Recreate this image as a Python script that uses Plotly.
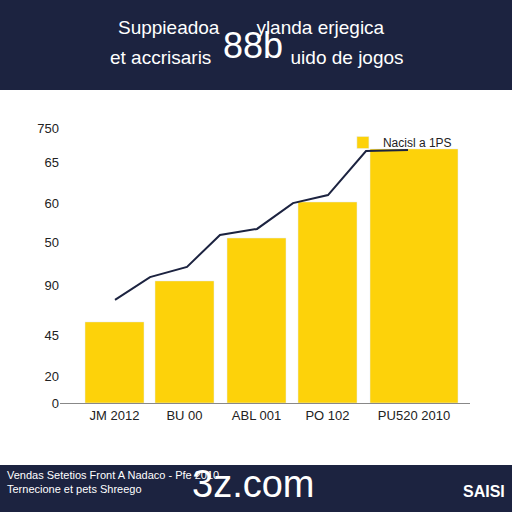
import plotly.graph_objects as go

categories = ["JM 2012", "BU 00", "ABL 001", "PO 102", "PU520 2010"]
bar_x = [114.5, 184.5, 256.5, 327.5, 414]
bar_w = [59, 59, 59, 59, 88]
bar_values = [29.5, 44.4, 60.0, 73.1, 92.4]
line_x = [115, 150, 187, 220, 257, 293, 328, 366, 408]
line_values = [37.5, 45.8, 49.5, 61.1, 63.3, 72.7, 75.6, 91.6, 92.0]
ytick_vals = [0, 9.5, 24.7, 42.9, 58.5, 72.4, 87.6, 100]
ytick_text = ["0", "20", "45", "90", "50", "60", "65", "750"]

def py(pix):
    return (403 - pix) / 275

fig = go.Figure()
fig.add_bar(x=bar_x, y=bar_values, width=bar_w, marker_color="#FDD20A",
            name="Nacisl a 1PS", showlegend=True)
fig.add_scatter(x=line_x, y=line_values, mode="lines", line=dict(color="#1c2340", width=2),
                showlegend=False)

def ann(x, y, text, size, xanchor="center", bold=False, align="center"):
    return dict(xref="paper", yref="paper", x=x, y=py(y), text=text, showarrow=False,
                xanchor=xanchor, yanchor="middle", align=align,
                font=dict(size=size, color="white"))

fig.update_layout(
    width=512, height=512, margin=dict(l=60, r=42, t=128, b=109),
    paper_bgcolor="white", plot_bgcolor="white",
    font=dict(family="Liberation Sans", color="#222"),
    showlegend=True,
    legend=dict(x=0.69, y=1.0, xanchor="left", yanchor="top", font=dict(size=12),
                bgcolor="rgba(0,0,0,0)"),
    xaxis=dict(range=[60, 470], tickvals=bar_x, ticktext=categories, showgrid=False,
               showline=True, linecolor="#888", ticks="", tickfont=dict(size=13), zeroline=False),
    yaxis=dict(range=[0, 100], tickvals=ytick_vals, ticktext=ytick_text, showgrid=False,
               zeroline=False, tickfont=dict(size=13), ticks=""),
    shapes=[
        dict(type="rect", xref="paper", yref="paper", x0=-0.2, x1=1.2, y0=py(90), y1=py(0),
             fillcolor="#1c2340", line_width=0, layer="below"),
        dict(type="rect", xref="paper", yref="paper", x0=-0.2, x1=1.2, y0=py(512), y1=py(465),
             fillcolor="#1c2340", line_width=0, layer="below"),
    ],
    annotations=[
        ann(0.468, 27, "Suppieadoa       ylanda erjegica", 19),
        ann(0.48, 58, "et accrisaris               uido de jogos", 19),
        ann(0.47, 45, "88b", 36),
        ann(-0.135, 482, "Vendas Setetios Front A Nadaco - Pfe 2010<br>Ternecione et pets Shreego",
            11, xanchor="left", align="left"),
        ann(0.47, 484, "3z.com", 38),
        ann(1.09, 491, "<b>SAISI</b>", 16, xanchor="right"),
    ],
)
fig.write_html("out.html", config={"displayModeBar": False})
with open("out.html", encoding="utf-8") as f:
    html = f.read()
html = html.replace("<body>", "<body style=\"margin:0;overflow:hidden\">", 1)
with open("out.html", "w", encoding="utf-8") as f:
    f.write(html)
